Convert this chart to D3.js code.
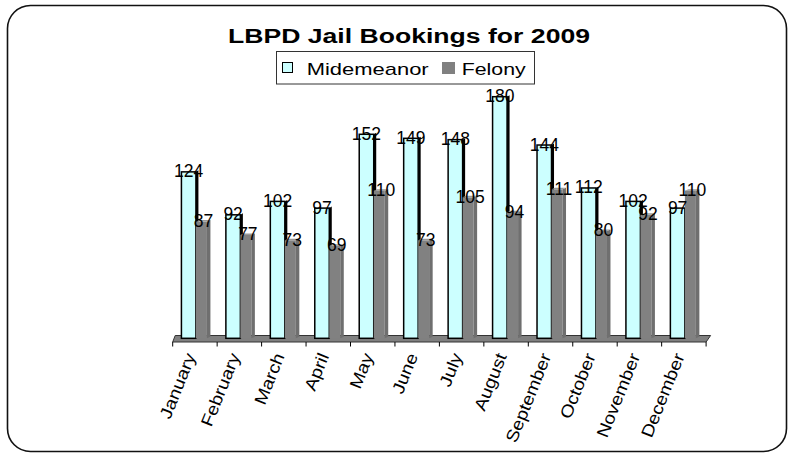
<!DOCTYPE html>
<html>
<head>
<meta charset="utf-8">
<script src="https://cdn.jsdelivr.net/npm/d3@7"></script>
<style>
html,body{margin:0;padding:0;background:#fff;}
svg{display:block;}
text{font-family:"Liberation Sans",Arial,sans-serif;}
</style>
</head>
<body>
<svg id="chart" width="794" height="457"></svg>
<script>
const months = ["January","February","March","April","May","June","July","August","September","October","November","December"];
const misdemeanor = [124,92,102,97,152,149,148,180,144,112,102,97];
const felony = [87,77,73,69,110,73,105,94,111,80,92,110];
const seriesNames = ["Midemeanor","Felony"];
const titleText = "LBPD Jail Bookings for 2009";

const svg = d3.select("#chart");
const W = 794, H = 457;

// outer rounded border
svg.append("rect").attr("x",7.5).attr("y",5.5).attr("width",779).attr("height",446)
  .attr("rx",23).attr("ry",23).attr("fill","#fff").attr("stroke","#111").attr("stroke-width",1.6);

const x = d3.scaleBand().domain(months).range([172.7, 706.1]).padding(0);
const y = d3.scaleLinear().domain([0,180]).range([338.3, 96.7]);
const base = y(0);

// floor
const floorTop = 335.5, floorBot = 342;
svg.append("polygon")
  .attr("points", [[x.range()[0]+2.5,floorTop],[x.range()[1]+4.5,floorTop],[x.range()[1],floorBot],[x.range()[0],floorBot]].map(p=>p.join(",")).join(" "))
  .attr("fill","#808080").attr("stroke","#333").attr("stroke-width",1);

// ticks
const tickXs = months.map(m=>x(m)).concat([x.range()[1]]);
svg.append("g").selectAll("line").data(tickXs).join("line")
  .attr("x1",d=>d).attr("x2",d=>d).attr("y1",floorBot).attr("y2",floorBot+4.5)
  .attr("stroke","#000").attr("stroke-width",1);

const cx = m => x(m) + x.bandwidth()/2;

const bars = svg.append("g");
months.forEach((m,i)=>{
  const c = cx(m);
  const tm = y(misdemeanor[i]);
  // misdemeanor dark side
  bars.append("polygon")
    .attr("points", [[c+1,tm],[c+3.5,tm-1.5],[c+3.5,base-1.5],[c+1,base]].map(p=>p.join(",")).join(" "))
    .attr("fill","#000");
  bars.append("rect").attr("x",c-13.5).attr("y",tm).attr("width",14.5).attr("height",base-tm)
    .attr("fill","#CCFFFF").attr("stroke","#000").attr("stroke-width",1.5);
  const tf = y(felony[i]);
  bars.append("rect").attr("x",c+1).attr("y",tf).attr("width",11).attr("height",base-tf)
    .attr("fill","#818181");
  bars.append("polygon")
    .attr("points", [[c+12,tf],[c+15.5,tf-1.5],[c+15.5,base-1.5],[c+12,base]].map(p=>p.join(",")).join(" "))
    .attr("fill","#6f6f6f");
  bars.append("polygon")
    .attr("points", [[c+1,tf],[c+4.5,tf-1.5],[c+15.5,tf-1.5],[c+12,tf]].map(p=>p.join(",")).join(" "))
    .attr("fill","#9a9a9a");
});

// value labels
const labels = svg.append("g").attr("font-size","17.5px").attr("fill","#000").attr("text-anchor","middle");
months.forEach((m,i)=>{
  const c = cx(m);
  labels.append("text").attr("x",c-6.25).attr("y",y(misdemeanor[i])+5.5).text(misdemeanor[i]);
  labels.append("text").attr("x",c+8.5).attr("y",y(felony[i])+5.5).text(felony[i]);
});

// month labels
svg.append("g").selectAll("text").data(months).join("text")
  .attr("transform", d=>`translate(${cx(d)+1},${356}) rotate(-68) scale(1.14,1)`)
  .attr("text-anchor","end").attr("font-size","17px").attr("fill","#000")
  .text(d=>d);

// title
svg.append("text").attr("x",409).attr("y",43).attr("text-anchor","middle")
  .attr("font-size","20px").attr("font-weight","bold").attr("fill","#000")
  .attr("textLength",362).attr("lengthAdjust","spacingAndGlyphs")
  .text(titleText);

// legend
const lg = svg.append("g");
lg.append("rect").attr("x",276.5).attr("y",51.5).attr("width",258).attr("height",32.5)
  .attr("fill","#fff").attr("stroke","#333").attr("stroke-width",1);
lg.append("rect").attr("x",282.5).attr("y",62.5).attr("width",10).attr("height",10)
  .attr("fill","#CCFFFF").attr("stroke","#000").attr("stroke-width",1);
lg.append("text").attr("x",306.7).attr("y",75).attr("font-size","17px")
  .attr("textLength",122).attr("lengthAdjust","spacingAndGlyphs").text(seriesNames[0]);
lg.append("rect").attr("x",442).attr("y",62).attr("width",13).attr("height",12)
  .attr("fill","#808080");
lg.append("text").attr("x",461.7).attr("y",75).attr("font-size","17px")
  .attr("textLength",64).attr("lengthAdjust","spacingAndGlyphs").text(seriesNames[1]);
</script>
</body>
</html>
